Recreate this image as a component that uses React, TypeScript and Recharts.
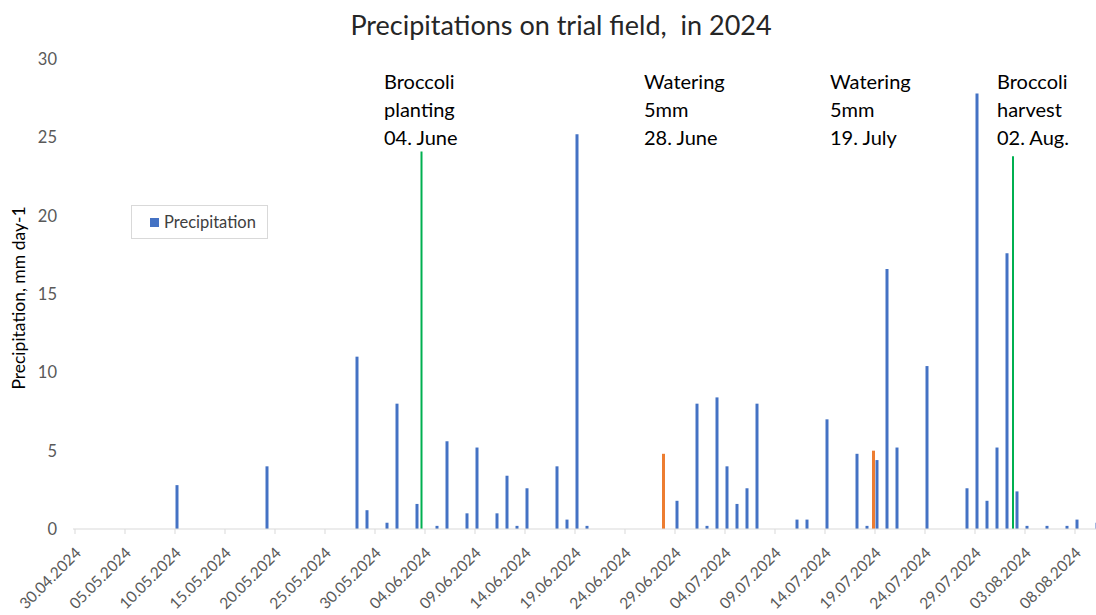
import React from "react";
import { BarChart, Bar, XAxis, YAxis, ReferenceLine, ReferenceDot, Legend } from "recharts";

// daily series, 30.04.2024 -> 10.08.2024
const firstDay = new Date(2024, 3, 30);
const dayCount = 103;

const rainDates = [
  "10.05.2024", "19.05.2024", "28.05.2024", "29.05.2024", "31.05.2024", "01.06.2024",
  "03.06.2024", "05.06.2024", "06.06.2024", "08.06.2024", "09.06.2024", "11.06.2024",
  "12.06.2024", "13.06.2024", "14.06.2024", "17.06.2024", "18.06.2024", "19.06.2024",
  "20.06.2024", "29.06.2024", "01.07.2024", "02.07.2024", "03.07.2024", "04.07.2024",
  "05.07.2024", "06.07.2024", "07.07.2024", "11.07.2024", "12.07.2024", "14.07.2024",
  "17.07.2024", "18.07.2024", "19.07.2024", "20.07.2024", "21.07.2024", "24.07.2024",
  "28.07.2024", "29.07.2024", "30.07.2024", "31.07.2024", "01.08.2024", "02.08.2024",
  "03.08.2024", "05.08.2024", "07.08.2024", "08.08.2024", "10.08.2024",
];
const rainMm = [
  2.8, 4.0, 11.0, 1.2, 0.4, 8.0,
  1.6, 0.2, 5.6, 1.0, 5.2, 1.0,
  3.4, 0.2, 2.6, 4.0, 0.6, 25.2,
  0.2, 1.8, 8.0, 0.2, 8.4, 4.0,
  1.6, 2.6, 8.0, 0.6, 0.6, 7.0,
  4.8, 0.2, 4.4, 16.6, 5.2, 10.4,
  2.6, 27.8, 1.8, 5.2, 17.6, 2.4,
  0.2, 0.2, 0.2, 0.6, 0.4,
];

const wateringDates = ["28.06.2024", "19.07.2024"];
const wateringMm = [4.8, 5.0];

const yTicks = [0, 5, 10, 15, 20, 25, 30];
const xTicks = [0, 5, 10, 15, 20, 25, 30, 35, 40, 45, 50, 55, 60, 65, 70, 75, 80, 85, 90, 95, 100];

// green marker lines (planting / harvest), x in day index
const markerDays = [34.65, 93.8];
const markerTops = [24.1, 23.8];

// annotation texts
const noteDays = [30.9, 56.9, 75.5, 92.2];
const noteLines = [
  ["Broccoli", "planting", "04. June"],
  ["Watering", "5mm", "28. June"],
  ["Watering", "5mm", "19. July"],
  ["Broccoli", "harvest", "02. Aug."],
];

const BLUE = "#4472C4";
const ORANGE = "#ED7D31";
const GREEN = "#00B050";
const FONT = "Lato, 'Open Sans', sans-serif";

const pad = (n: number) => String(n).padStart(2, "0");
const dayLabel = (i: number) => {
  const d = new Date(firstDay.getFullYear(), firstDay.getMonth(), firstDay.getDate() + i);
  return `${pad(d.getDate())}.${pad(d.getMonth() + 1)}.${d.getFullYear()}`;
};

const data = Array.from({ length: dayCount }, (_, i) => {
  const label = dayLabel(i);
  const r = rainDates.indexOf(label);
  const w = wateringDates.indexOf(label);
  return {
    day: i,
    date: label,
    rain: r >= 0 ? rainMm[r] : null,
    watering: w >= 0 ? wateringMm[w] : null,
  };
});

const DateTick = (props: any) => {
  const { x, y, payload } = props;
  const ax = x + 7;
  const ay = y + 20;
  return (
    <text
      x={ax}
      y={ay}
      textAnchor="end"
      transform={`rotate(-45, ${ax}, ${ay})`}
      fontSize={15.5}
      fontFamily={FONT}
      fill="#595959"
    >
      {dayLabel(payload.value)}
    </text>
  );
};

const Note = (lines: string[]) => (props: any) => {
  const vb = props.viewBox || {};
  return (
    <text x={vb.x} y={vb.y} fontSize={20} fontFamily={FONT} fill="#000">
      {lines.map((t, i) => (
        <tspan key={i} x={vb.x} dy={i === 0 ? 0 : 28}>
          {t}
        </tspan>
      ))}
    </text>
  );
};

const YTitle = (props: any) => {
  const vb = props.viewBox || { x: 0, y: 0, height: 0 };
  const cx = vb.x + 18;
  const cy = vb.y + vb.height / 2 + 4;
  return (
    <text
      x={cx}
      y={cy}
      textAnchor="middle"
      dominantBaseline="central"
      transform={`rotate(-90, ${cx}, ${cy})`}
      fontSize={17.5}
      fontFamily={FONT}
      fill="#000"
    >
      Precipitation, mm day-1
    </text>
  );
};

const LegendBox = () => (
  <div
    style={{
      width: 137,
      height: 34,
      border: "1px solid #D9D9D9",
      boxSizing: "border-box",
      display: "flex",
      alignItems: "center",
      paddingLeft: 18,
      fontFamily: FONT,
      fontSize: 16.5,
      color: "#404040",
      background: "#fff",
    }}
  >
    <span style={{ width: 9, height: 9, background: BLUE, marginRight: 5, display: "inline-block" }} />
    Precipitation
  </div>
);

export default function App() {
  return (
    <div
      style={{
        position: "absolute",
        left: 0,
        top: 0,
        width: 1096,
        height: 615,
        overflow: "hidden",
        background: "#fff",
      }}
    >
      <div
        style={{
          position: "absolute",
          left: 0,
          width: 1122,
          top: 8,
          textAlign: "center",
          fontFamily: FONT,
          fontSize: 27,
          color: "#262626",
        }}
      >
        Precipitations on trial field,&nbsp; in 2024
      </div>
      <BarChart
        width={1100}
        height={615}
        data={data}
        margin={{ top: 59, right: 0, bottom: 0, left: 0 }}
        barSize={3}
        barGap={0.5}
      >
        <XAxis
          dataKey="day"
          type="number"
          domain={[-0.2, 102.5]}
          allowDataOverflow
          ticks={xTicks}
          interval={0}
          height={86}
          tick={<DateTick />}
          tickSize={5}
          tickMargin={0}
          stroke="#D9D9D9"
          tickLine={{ stroke: "#D9D9D9" }}
        />
        <YAxis
          domain={[0, 30]}
          ticks={yTicks}
          width={73}
          axisLine={false}
          tickLine={false}
          tick={{ fontSize: 16.5, fill: "#595959", fontFamily: FONT }}
          tickMargin={10}
          label={{ content: <YTitle /> }}
        />
        <Legend
          layout="vertical"
          align="center"
          verticalAlign="middle"
          wrapperStyle={{ left: 131, top: 205, width: 137, height: 34 }}
          content={<LegendBox />}
        />
        <Bar dataKey="watering" fill={ORANGE} isAnimationActive={false} legendType="none" />
        <Bar dataKey="rain" name="Precipitation" fill={BLUE} isAnimationActive={false} />
        {markerDays.map((d, i) => (
          <ReferenceLine
            key={`m${i}`}
            segment={[
              { x: d, y: 0 },
              { x: d, y: markerTops[i] },
            ]}
            stroke={GREEN}
            strokeWidth={2}
          />
        ))}
        {noteDays.map((d, i) => (
          <ReferenceDot
            key={`n${i}`}
            x={d}
            y={28.1}
            r={0}
            fill="none"
            stroke="none"
            label={Note(noteLines[i])}
          />
        ))}
      </BarChart>
    </div>
  );
}
